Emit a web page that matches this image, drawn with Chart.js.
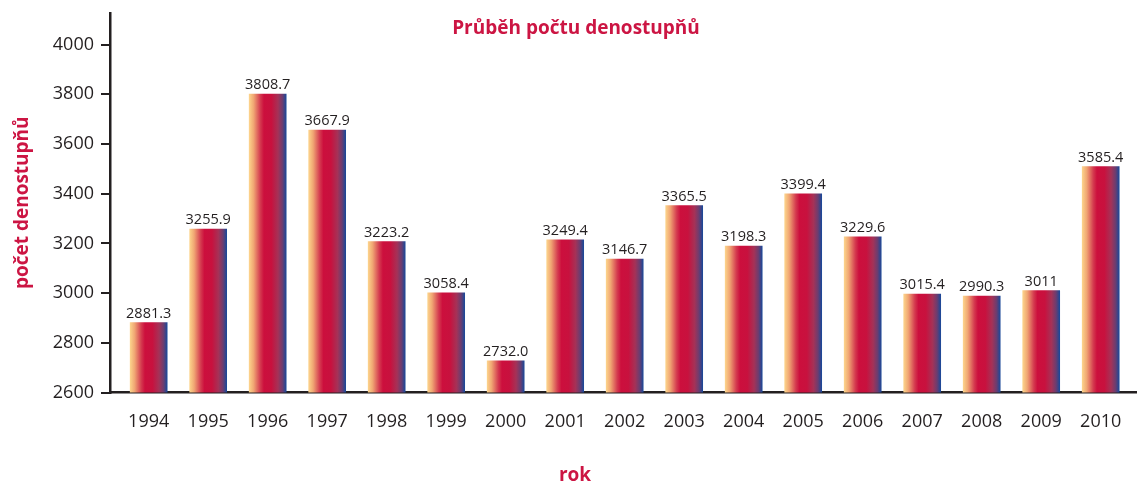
<!DOCTYPE html>
<html>
<head>
<meta charset="utf-8">
<script src="https://cdn.jsdelivr.net/npm/chart.js@4/dist/chart.umd.min.js"></script>
<style>
  body { margin:0; background:#fff; }
  #wrap { position:relative; width:1137px; height:484px; }
  .ttl { position:absolute; font-family:"Open Sans", sans-serif; font-weight:bold; font-size:19px; line-height:1; color:#cc1543; transform:translateX(-50%); white-space:nowrap; }
</style>
</head>
<body>
<div id="wrap">
  <canvas id="chart"></canvas>
  <div class="ttl" style="left:576px; top:18px;">Průběh počtu denostupňů</div>
  <div class="ttl" style="left:575px; top:465px;">rok</div>
</div>
<script>
// years on the x axis
const years = ["1994","1995","1996","1997","1998","1999","2000","2001","2002","2003","2004","2005","2006","2007","2008","2009","2010"];
// bar heights as drawn in the picture
const barValues = [2881, 3258, 3801, 3656, 3207, 3001, 2727, 3214, 3137, 3352, 3189, 3399, 3226, 2996, 2988, 3010, 3509];
// value labels printed above the bars
const valueLabels = ["2881.3","3255.9","3808.7","3667.9","3223.2","3058.4","2732.0","3249.4","3146.7","3365.5","3198.3","3399.4","3229.6","3015.4","2990.3","3011","3585.4"];

const BAR_W = 37;
const INK = "#231f20";
const RED = "#cc1543";

// gradient across each bar: pale orange -> crimson -> dark blue
function barFill(c){
  if(c.type !== "data") return "#cc0f3d";
  const sx = c.chart.scales && c.chart.scales.x;
  const x = sx ? sx.getPixelForValue(c.parsed.x) : NaN;
  if(!isFinite(x)) return "#cc0f3d";
  const g = c.chart.ctx.createLinearGradient(x - BAR_W/2, 0, x + BAR_W/2, 0);
  g.addColorStop(0, "#fcd38b");
  g.addColorStop(0.12, "#f0a673");
  g.addColorStop(0.3, "#d43a4f");
  g.addColorStop(0.4, "#cc0f3d");
  g.addColorStop(0.6, "#c8113e");
  g.addColorStop(0.78, "#a53257");
  g.addColorStop(0.9, "#6b3d70");
  g.addColorStop(1, "#1b4898");
  return g;
}

// labels above bars
const valueLabelPlugin = {
  id: "valueLabels",
  afterDatasetsDraw(chart){
    const ctx = chart.ctx;
    const meta = chart.getDatasetMeta(0);
    ctx.save();
    ctx.font = "14.5px 'Open Sans', sans-serif";
    ctx.fillStyle = INK;
    ctx.textAlign = "center";
    ctx.textBaseline = "alphabetic";
    meta.data.forEach((el, i)=>{
      ctx.fillText(valueLabels[i], el.x, el.y - 5);
    });
    ctx.restore();
  }
};

new Chart(document.getElementById("chart"), {
  type: "bar",
  data: {
    datasets: [{
      data: barValues.map((v, i)=>({ x: i, y: v })),
      backgroundColor: barFill,
      barThickness: BAR_W,
      borderWidth: 0
    }]
  },
  options: {
    responsive: true,
    maintainAspectRatio: false,
    animation: false,
    layout: { padding: { top: 13, right: 0, left: 0, bottom: 0 } },
    plugins: { legend: { display: false }, tooltip: { enabled: false } },
    scales: {
      x: {
        type: "linear",
        offset: false,
        min: -0.65,
        max: 16.61,
        afterFit: s => { s.height = 91.5; s.paddingLeft = 0; s.paddingRight = 0; },
        grid: { display: false },
        border: { display: true, color: INK, width: 2.5 },
        ticks: {
          stepSize: 1,
          includeBounds: false,
          autoSkip: false,
          maxRotation: 0,
          padding: 11,
          color: INK,
          font: { family: "'Open Sans', sans-serif", size: 18 },
          callback: v => years[v]
        }
      },
      y: {
        min: 2600,
        max: 4127,
        afterFit: s => { s.width = 110; s.paddingTop = 0; s.paddingBottom = 0; },
        grid: { display: true, drawOnChartArea: false, drawTicks: true, tickLength: 9, color: INK, lineWidth: 2 },
        border: { display: true, color: INK, width: 2.5 },
        ticks: {
          stepSize: 200,
          includeBounds: false,
          padding: 7,
          color: INK,
          font: { family: "'Open Sans', sans-serif", size: 18 },
          callback: v => String(v)
        },
        title: {
          display: true,
          text: "počet denostupňů",
          color: RED,
          padding: { top: 11, bottom: 0 },
          font: { family: "'Open Sans', sans-serif", size: 19, weight: "bold" }
        }
      }
    }
  },
  plugins: [valueLabelPlugin]
});
</script>
</body>
</html>
